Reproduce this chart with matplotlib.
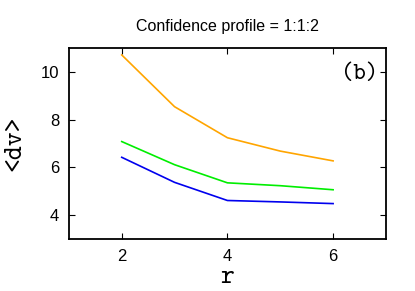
import os
import matplotlib
matplotlib.use("Agg")
import matplotlib.pyplot as plt
from matplotlib.font_manager import FontProperties

r = [2, 3, 4, 5, 6]
dv_orange = [10.71, 8.54, 7.24, 6.68, 6.27]
dv_green = [7.08, 6.11, 5.35, 5.23, 5.06]
dv_blue = [6.42, 5.37, 4.61, 4.55, 4.48]

# typewriter font shipped with matplotlib (looks like courier)
tt_file = os.path.join(matplotlib.get_data_path(), "fonts", "ttf", "cmtt10.ttf")

fig = plt.figure(figsize=(4.15, 2.91), dpi=100)
ax = fig.add_axes([0.166, 0.179, 0.764, 0.656])

ax.plot(r, dv_orange, color="#FFA500", lw=1.2)
ax.plot(r, dv_green, color="#00EE00", lw=1.2)
ax.plot(r, dv_blue, color="#0000EE", lw=1.2)

ax.set_xlim(1, 7)
ax.set_ylim(3, 11)
ax.set_xticks([2, 4, 6])
ax.set_yticks([4, 6, 8, 10])
ax.tick_params(direction="in", top=True, right=True, length=4, width=0.8,
               labelsize=12, pad=7)
for lab in ax.get_xticklabels() + ax.get_yticklabels():
    lab.set_family("Liberation Sans")
for s in ax.spines.values():
    s.set_linewidth(1.3)

ax.set_xlabel("r", fontproperties=FontProperties(fname=tt_file, size=19), labelpad=2)
ax.set_ylabel("<dv>", fontproperties=FontProperties(fname=tt_file, size=19), labelpad=10)
ax.text(0.975, 0.86, "(b)", transform=ax.transAxes, ha="right", va="center",
        fontproperties=FontProperties(fname=tt_file, size=17))
ax.set_title("Confidence profile = 1:1:2", family="Liberation Sans",
             fontsize=11.5, pad=12)

fig.savefig("out.png", dpi=100)
